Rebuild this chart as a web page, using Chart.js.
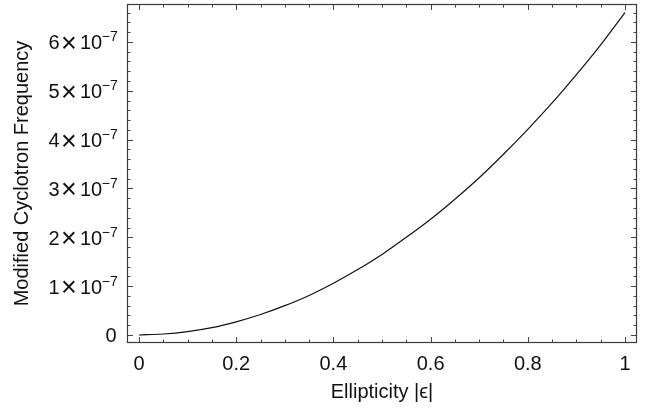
<!DOCTYPE html>
<html>
<head>
<meta charset="utf-8">
<script src="https://cdn.jsdelivr.net/npm/chart.js@4.4.0/dist/chart.umd.min.js"></script>
<style>
  html, body { margin: 0; padding: 0; background: #fff; }
  #wrap { width: 649px; height: 409px; }
</style>
</head>
<body>
<div id="wrap"><canvas id="chart" width="649" height="409"></canvas></div>
<script>
// values
const ellipticity = [0, 0.05, 0.1, 0.15, 0.2, 0.25, 0.3, 0.35, 0.4, 0.45, 0.5,
                     0.55, 0.6, 0.65, 0.7, 0.75, 0.8, 0.85, 0.9, 0.95, 1];
const frequency = [0, 0.02e-7, 0.07e-7, 0.15e-7, 0.27e-7, 0.42e-7, 0.60e-7, 0.81e-7, 1.06e-7, 1.34e-7, 1.65e-7,
                   2.00e-7, 2.37e-7, 2.78e-7, 3.22e-7, 3.70e-7, 4.21e-7, 4.75e-7, 5.33e-7, 5.94e-7, 6.60e-7];

const xTicks = [0, 0.2, 0.4, 0.6, 0.8, 1];
const xTickLabels = ['0', '0.2', '0.4', '0.6', '0.8', '1'];
const yTicks = [0, 1e-7, 2e-7, 3e-7, 4e-7, 5e-7, 6e-7];
const yMantissas = ['0', '1', '2', '3', '4', '5', '6'];
const yExponent = '\u22127';

const FONT = '"Liberation Sans", Arial, Helvetica, sans-serif';
const TEXT = '#111';

Chart.defaults.font.family = FONT;
Chart.defaults.color = TEXT;

function inkRight(ctx, text, right, baseline) {
  const m = ctx.measureText(text);
  ctx.fillText(text, right - m.actualBoundingBoxRight, baseline);
}

// frame, inward ticks and the y labels with superscript exponents
const framePlugin = {
  id: 'frame',
  afterDraw(chart) {
    const { ctx, chartArea: a, scales: { x, y } } = chart;
    ctx.save();

    ctx.strokeStyle = '#3a3a3a';
    ctx.lineWidth = 1.2;
    ctx.strokeRect(a.left + 0.5, a.top + 0.5, a.right - a.left - 1, a.bottom - a.top - 1);

    ctx.strokeStyle = '#444';
    ctx.lineWidth = 1;
    ctx.beginPath();
    for (let i = 0; i <= 20; i++) {
      const px = Math.round(x.getPixelForValue(i * 0.05)) + 0.5;
      const len = i % 4 === 0 ? 5 : 2.5;
      ctx.moveTo(px, a.bottom - 1); ctx.lineTo(px, a.bottom - 1 - len);
      ctx.moveTo(px, a.top + 1); ctx.lineTo(px, a.top + 1 + len);
    }
    for (let i = 0; i <= 40; i++) {
      const v = i * 0.2e-7;
      if (v > y.max) break;
      const py = Math.round(y.getPixelForValue(v)) + 0.5;
      const len = i % 5 === 0 ? 5 : 2.5;
      ctx.moveTo(a.left + 1, py); ctx.lineTo(a.left + 1 + len, py);
      ctx.moveTo(a.right - 1, py); ctx.lineTo(a.right - 1 - len, py);
    }
    ctx.stroke();

    ctx.fillStyle = TEXT;
    ctx.textAlign = 'left';
    ctx.textBaseline = 'alphabetic';
    const R = 118;
    yTicks.forEach((v, i) => {
      const py = y.getPixelForValue(v);
      ctx.font = `20px ${FONT}`;
      const dm = ctx.measureText('0');
      const base = py + 0.5 + (dm.actualBoundingBoxAscent - dm.actualBoundingBoxDescent) / 2;
      if (yMantissas[i] === '0') {
        inkRight(ctx, '0', R - 1.5, base);
        return;
      }
      inkRight(ctx, '10', R - 16, base);
      inkRight(ctx, yMantissas[i], R - 58.5, base);
      ctx.font = `14px ${FONT}`;
      inkRight(ctx, yExponent, R, py - 0.5);
      ctx.font = `27px ${FONT}`;
      const tm = ctx.measureText('\u00d7');
      const cx = R - 48.5;
      ctx.fillText('\u00d7',
        cx - (tm.actualBoundingBoxRight - tm.actualBoundingBoxLeft) / 2 + tm.actualBoundingBoxLeft,
        py + 0.5 + (tm.actualBoundingBoxAscent - tm.actualBoundingBoxDescent) / 2);
    });
    ctx.restore();
  }
};

new Chart(document.getElementById('chart'), {
  type: 'line',
  data: {
    datasets: [{
      data: ellipticity.map((e, i) => ({ x: e, y: frequency[i] })),
      borderColor: '#111',
      borderWidth: 1.2,
      pointRadius: 0,
      fill: false,
      cubicInterpolationMode: 'monotone'
    }]
  },
  options: {
    responsive: false,
    animation: false,
    layout: { padding: { top: 4, right: 12, left: 0, bottom: 0 } },
    plugins: {
      legend: { display: false },
      tooltip: { enabled: false }
    },
    scales: {
      x: {
        type: 'linear',
        min: -0.0247,
        max: 1.0247,
        grid: { display: false },
        border: { display: false },
        afterBuildTicks: s => { s.ticks = xTicks.map(v => ({ value: v })); },
        afterFit: s => { s.height = 66; },
        ticks: {
          autoSkip: false,
          maxRotation: 0,
          padding: 1,
          font: { size: 20 },
          color: TEXT,
          callback: (v, i) => xTickLabels[i]
        },
        title: {
          display: true,
          text: 'Ellipticity |\u03f5|',
          font: { size: 20 },
          color: TEXT,
          padding: { top: 0, bottom: 5 }
        }
      },
      y: {
        type: 'linear',
        min: -0.164e-7,
        max: 6.776e-7,
        grid: { display: false },
        border: { display: false },
        afterBuildTicks: s => { s.ticks = yTicks.map(v => ({ value: v })); },
        afterFit: s => { s.width = 127; },
        ticks: { display: false },
        title: {
          display: true,
          text: 'Modified Cyclotron Frequency',
          font: { size: 20 },
          color: TEXT,
          padding: { top: 10, bottom: 0 }
        }
      }
    }
  },
  plugins: [framePlugin]
});
</script>
</body>
</html>
